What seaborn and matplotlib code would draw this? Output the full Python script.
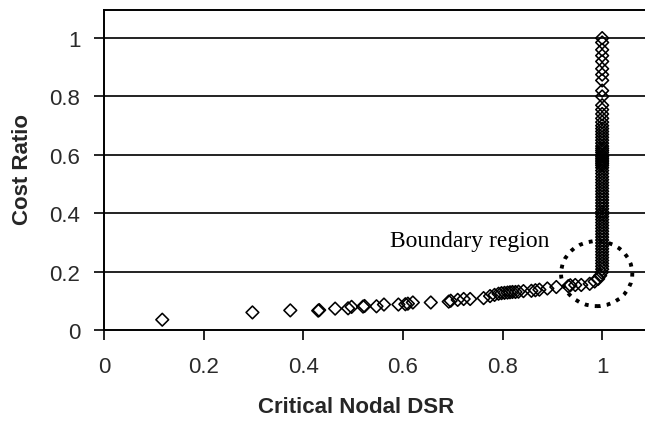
import matplotlib
matplotlib.use("Agg")
import matplotlib.pyplot as plt
from matplotlib.patches import Ellipse
import seaborn as sns
import pandas as pd

# --- data: horizontal branch (DSR < 1) ---
dsr_low = [0.117, 0.298, 0.374, 0.430, 0.432, 0.464, 0.490, 0.497, 0.520, 0.523,
           0.547, 0.562, 0.591, 0.605, 0.610, 0.620, 0.656, 0.692, 0.696, 0.710,
           0.722, 0.735, 0.762, 0.775, 0.784, 0.792, 0.798, 0.804, 0.810, 0.815,
           0.820, 0.826, 0.832, 0.842, 0.858, 0.866, 0.874, 0.890, 0.908, 0.932,
           0.936, 0.946, 0.958, 0.975, 0.985, 0.992, 0.996, 0.999]
cost_low = [0.035, 0.060, 0.067, 0.066, 0.068, 0.073, 0.074, 0.079, 0.080, 0.082,
            0.081, 0.087, 0.087, 0.088, 0.090, 0.094, 0.094, 0.097, 0.100, 0.103,
            0.106, 0.106, 0.109, 0.116, 0.120, 0.124, 0.126, 0.127, 0.128, 0.129,
            0.130, 0.130, 0.131, 0.133, 0.134, 0.136, 0.138, 0.142, 0.147, 0.150,
            0.153, 0.154, 0.154, 0.158, 0.166, 0.175, 0.186, 0.197]

# --- data: vertical branch (DSR = 1) ---
cost_high = [1.00, 0.985, 0.96, 0.94, 0.92, 0.895, 0.875, 0.855, 0.82, 0.80,
             0.77, 0.755, 0.74, 0.725, 0.712, 0.70, 0.69, 0.68, 0.67, 0.66,
             0.65, 0.64, 0.63, 0.622, 0.615, 0.608, 0.60, 0.594, 0.588, 0.582,
             0.576, 0.57, 0.564, 0.556, 0.546, 0.536, 0.525, 0.515, 0.505, 0.495,
             0.485, 0.475, 0.465, 0.455, 0.445, 0.435, 0.425, 0.415, 0.405, 0.397,
             0.388, 0.378, 0.368, 0.358, 0.348, 0.338, 0.328, 0.318, 0.308, 0.298,
             0.288, 0.278, 0.268, 0.258, 0.248, 0.238, 0.228, 0.218, 0.208]
dsr_high = [1.0] * len(cost_high)

x_ticks = [0, 0.2, 0.4, 0.6, 0.8, 1]
x_tick_labels = ["0", "0.2", "0.4", "0.6", "0.8", "1"]
y_ticks = [0, 0.2, 0.4, 0.6, 0.8, 1]
y_tick_labels = ["0", "0.2", "0.4", "0.6", "0.8", "1"]

df = pd.DataFrame({"dsr": dsr_low + dsr_high, "cost": cost_low + cost_high})

sns.set_style("white")
sans = ["Liberation Sans", "DejaVu Sans"]

fig = plt.figure(figsize=(6.45, 4.27), dpi=100)
ax = fig.add_axes([0.1612, 0.225, 0.8388, 0.749])

for yv in y_ticks[1:]:
    ax.axhline(yv, color="#222222", lw=1.4, zorder=0)

sns.scatterplot(data=df, x="dsr", y="cost", ax=ax, marker="D", s=42,
                facecolor="none", edgecolor="black", linewidth=1.15, zorder=3)

ax.add_patch(Ellipse((0.989, 0.193), 0.143, 0.223, fill=False,
                     linestyle=(0, (1, 1.6)), lw=2.8, edgecolor="black", zorder=4))
ax.text(0.574, 0.288, "Boundary region", family="Liberation Serif", fontsize=17,
        ha="left", va="baseline", color="black")

ax.set_xlim(0, 1.086)
ax.set_ylim(0, 1.096)
ax.set_xticks(x_ticks)
ax.set_xticklabels(x_tick_labels, family=sans, fontsize=16, color="#2a2a2a")
ax.set_yticks(y_ticks)
ax.set_yticklabels(y_tick_labels, family=sans, fontsize=16, color="#2a2a2a")
ax.tick_params(axis="x", direction="out", length=7, width=1.2, color="black", pad=12,
               bottom=True)
ax.tick_params(axis="y", direction="out", length=7, width=1.2, color="black", pad=10,
               left=True)

for s in ["left", "top", "bottom"]:
    ax.spines[s].set_color("black")
    ax.spines[s].set_linewidth(1.4)
ax.spines["right"].set_visible(False)

ax.set_xlabel("Critical Nodal DSR", family=sans, fontsize=16, fontweight="bold")
ax.set_ylabel("Cost Ratio", family=sans, fontsize=16, fontweight="bold")
ax.xaxis.set_label_coords(0.466, -0.206)
ax.yaxis.set_label_coords(-0.131, 0.506)

fig.savefig("out.png", dpi=100)
